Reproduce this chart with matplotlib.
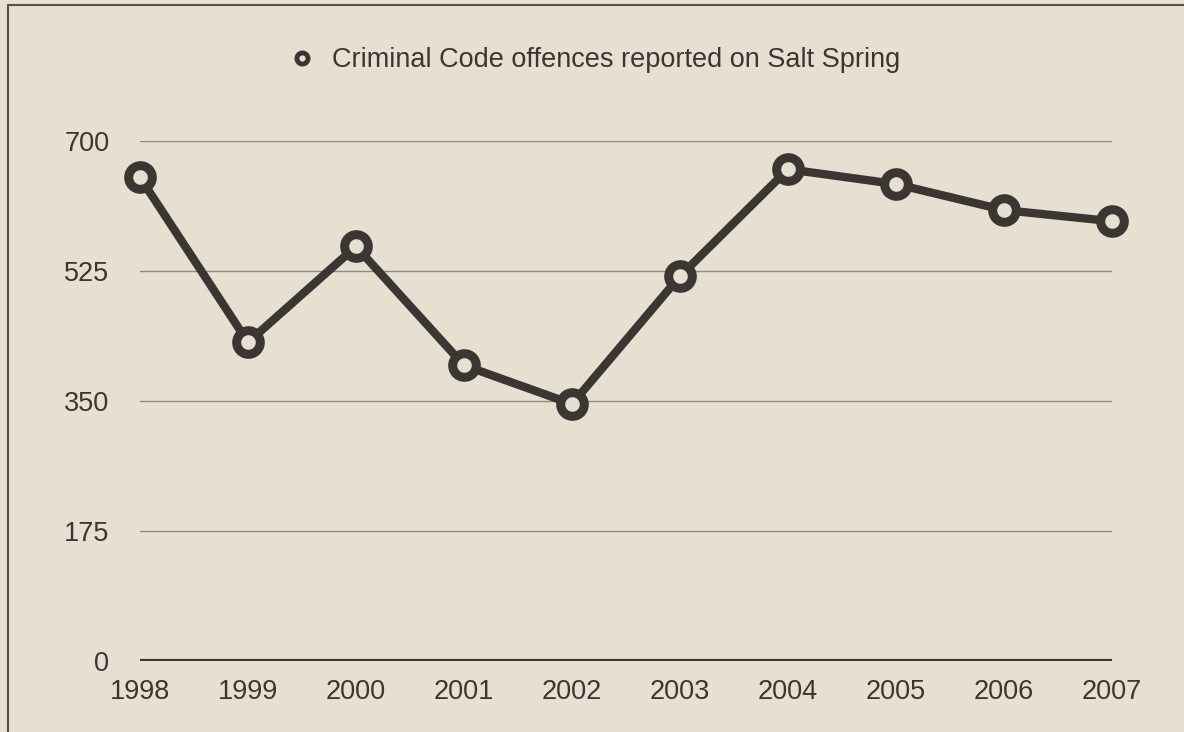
import matplotlib.pyplot as plt
from matplotlib.lines import Line2D
from matplotlib.patches import Rectangle

years = [1998, 1999, 2000, 2001, 2002, 2003, 2004, 2005, 2006, 2007]
offences = [651, 429, 558, 398, 346, 518, 662, 642, 607, 592]
yticks = [0, 175, 350, 525, 700]

bg = '#e7dfd1'
ink = '#3b3632'

plt.rcParams['font.family'] = ['Liberation Sans', 'DejaVu Sans']

fig = plt.figure(figsize=(11.84, 7.32), dpi=100, facecolor=bg)
ax = fig.add_axes([140/1184, 1-661/732, (1112-140)/1184, (661-141)/732])
ax.set_facecolor(bg)

# frame around the whole graphic
fig.patches.append(Rectangle((8/1184, -0.05), 1.2, 1-5/732+0.05, transform=fig.transFigure,
                             fill=False, edgecolor='#55504a', linewidth=1.5))

for y in yticks[1:]:
    ax.axhline(y, color='#8f8a83', linewidth=1.0, zorder=1)
ax.axhline(0, color=ink, linewidth=3, zorder=1)

ax.plot(years, offences, color=ink, linewidth=6, marker='o', markersize=17,
        markerfacecolor=bg, markeredgecolor=ink, markeredgewidth=6.5,
        clip_on=False, zorder=3)

ax.set_xlim(1998, 2007)
ax.set_ylim(0, 700)
ax.set_xticks(years)
ax.set_yticks(yticks)
ax.tick_params(length=0, labelsize=19.5, colors=ink)
ax.tick_params(axis='y', pad=22)
ax.tick_params(axis='x', pad=13)
for s in ax.spines.values():
    s.set_visible(False)

proxy = Line2D([], [], linestyle='none', marker='o', markersize=8,
               markerfacecolor=bg, markeredgecolor=ink, markeredgewidth=3.5)
fig.legend([proxy], ['Criminal Code offences reported on Salt Spring'],
           loc='center left', bbox_to_anchor=(291/1184, 1-60/732), frameon=False,
           fontsize=19.5, labelcolor=ink, handletextpad=0.7, handlelength=0.8,
           borderpad=0, borderaxespad=0)

fig.savefig('out.png', dpi=100, facecolor=bg)
